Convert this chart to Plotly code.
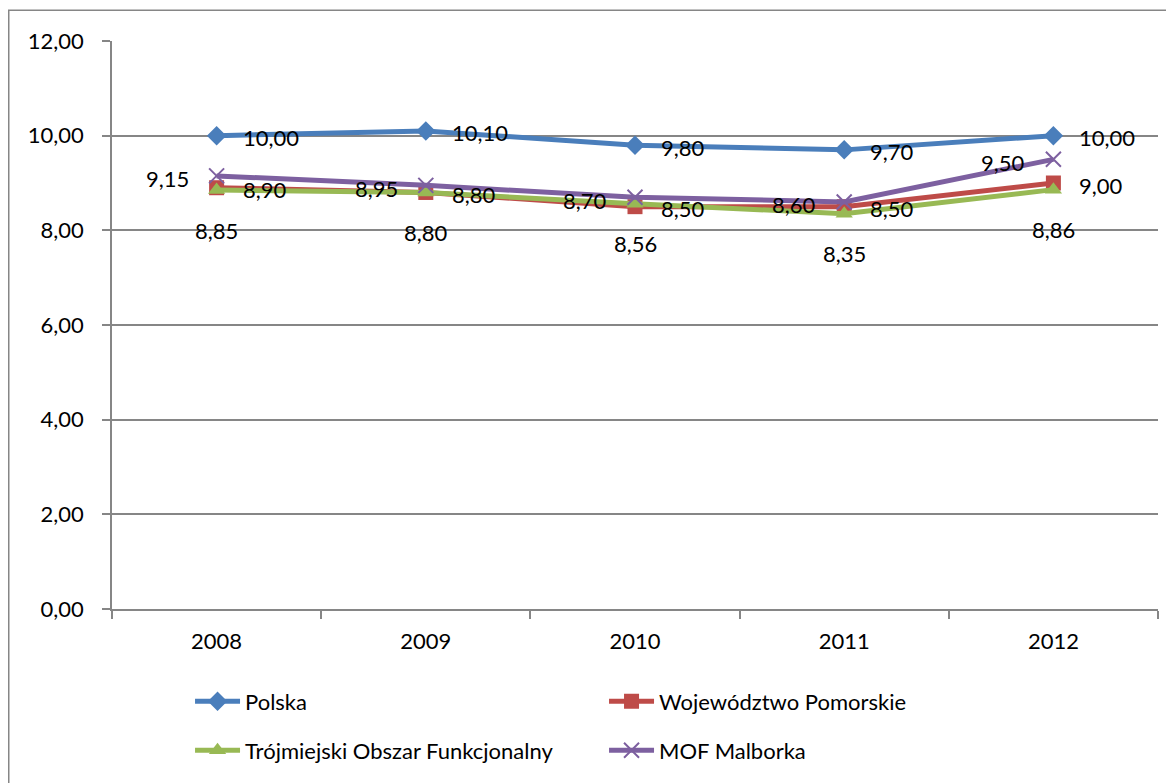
import plotly.graph_objects as go

# dane
years = ["2008", "2009", "2010", "2011", "2012"]
polska = [10.00, 10.10, 9.80, 9.70, 10.00]
pomorskie = [8.90, 8.80, 8.50, 8.50, 9.00]
trojmiasto = [8.85, 8.80, 8.56, 8.35, 8.86]
malbork = [9.15, 8.95, 8.70, 8.60, 9.50]

series = [
    # name, values, colour, symbol, label placement, legend row
    ("Polska", polska, "#4A7EBB", "diamond", "right", "legend"),
    ("Województwo Pomorskie", pomorskie, "#BE4B48", "square", "right", "legend"),
    ("Trójmiejski Obszar Funkcjonalny", trojmiasto, "#98B954", "triangle-up", "below", "legend2"),
    ("MOF Malborka", malbork, "#7D60A0", "x-thin", "left", "legend2"),
]

FONT = "Lato, Carlito, Calibri, sans-serif"
FS = 22


def fmt(v):
    return f"{v:.2f}".replace(".", ",")


fig = go.Figure()

for name, vals, color, symbol, place, leg in series:
    if symbol == "x-thin":
        marker = dict(symbol=symbol, size=15, color=color, line=dict(color=color, width=2))
    else:
        marker = dict(symbol=symbol, size=15, color=color, line=dict(width=0))
    fig.add_trace(go.Scatter(
        x=years, y=vals, name=name, mode="lines+markers", legend=leg,
        line=dict(color=color, width=5), marker=marker,
    ))

for name, vals, color, symbol, place, leg in series:
    # etykiety danych
    for i, v in enumerate(vals):
        if place == "right":
            kw = dict(xanchor="left", xshift=24, yshift=-2)
        elif place == "left":
            kw = dict(xanchor="right", xshift=-26, yshift=-3)
        else:
            kw = dict(xanchor="center", yshift=-40)
        fig.add_annotation(x=i, y=v, xref="x", yref="y", text=fmt(v),
                           showarrow=False, font=dict(size=FS, color="black"), **kw)

# ramka wykresu
fig.add_shape(type="rect", xref="paper", yref="paper",
              x0=(0.75 - 104) / 1046, x1=(1180 - 104) / 1046,
              y0=-0.4, y1=1 + (33 - 2) / 571,
              line=dict(color="#868686", width=1.5), layer="below")

leg_common = dict(orientation="h", x=0.0746, xanchor="left", yanchor="top",
                  entrywidth=354, entrywidthmode="pixels", font=dict(size=FS),
                  itemwidth=45, bgcolor="rgba(0,0,0,0)")

fig.update_layout(
    width=1166, height=775,
    margin=dict(l=104, r=16, t=33, b=171),
    paper_bgcolor="white", plot_bgcolor="white",
    font=dict(family=FONT, size=FS, color="black"),
    showlegend=True,
    legend=dict(y=-0.126, **leg_common),
    legend2=dict(y=-0.212, **leg_common),
    separators=", ",
)

fig.update_xaxes(type="category", showline=True, linecolor="#868686", linewidth=1.5,
                 ticks="outside", tickson="boundaries", ticklen=8, tickcolor="#868686",
                 tickwidth=1.5, showgrid=False, ticklabelstandoff=12,
                 range=[-0.5, 4.5])
fig.update_yaxes(range=[0, 12], dtick=2, tickformat=".2f", showline=True,
                 linecolor="#868686", linewidth=1.5, ticks="outside", ticklen=8,
                 tickcolor="#868686", tickwidth=1.5, showgrid=True, gridcolor="#868686",
                 gridwidth=1.5, zeroline=False, ticklabelstandoff=14)

fig.write_html("out.html")
